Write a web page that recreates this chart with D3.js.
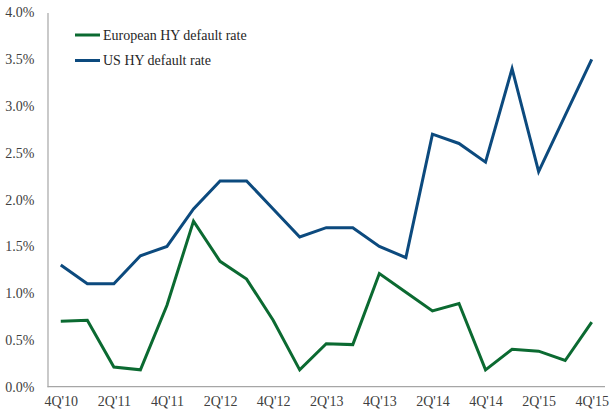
<!DOCTYPE html>
<html>
<head>
<meta charset="utf-8">
<script src="https://cdn.jsdelivr.net/npm/d3@7"></script>
<style>
  html, body { margin: 0; padding: 0; background: #fff; }
  svg { display: block; }
</style>
</head>
<body>
<svg id="chart" width="610" height="414"></svg>
<script>
// Quarterly high-yield default rates, 4Q'10 through 4Q'15 (percent)
const quarters = [
  "4Q'10", "1Q'11", "2Q'11", "3Q'11", "4Q'11", "1Q'12", "2Q'12", "3Q'12", "4Q'12",
  "1Q'13", "2Q'13", "3Q'13", "4Q'13", "1Q'14", "2Q'14", "3Q'14", "4Q'14",
  "1Q'15", "2Q'15", "3Q'15", "4Q'15"
];
const europeanHY = [0.70, 0.71, 0.21, 0.18, 0.87, 1.77, 1.34, 1.15, 0.71, 0.18, 0.46, 0.45,
  1.21, 1.01, 0.81, 0.89, 0.18, 0.40, 0.38, 0.28, 0.69];
const usHY = [1.30, 1.10, 1.10, 1.40, 1.50, 1.90, 2.20, 2.20, 1.90, 1.60, 1.70, 1.70,
  1.50, 1.38, 2.70, 2.60, 2.40, 3.40, 2.30, 2.90, 3.50];
const yTicks = [0, 0.5, 1.0, 1.5, 2.0, 2.5, 3.0, 3.5, 4.0];
const xTickLabels = ["4Q'10", "2Q'11", "4Q'11", "2Q'12", "4Q'12", "2Q'13", "4Q'13",
  "2Q'14", "4Q'14", "2Q'15", "4Q'15"];

const seriesList = [
  { name: "European HY default rate", values: europeanHY, color: "#0B6A31" },
  { name: "US HY default rate", values: usHY, color: "#0C4A7E" }
];

const FONT = "Liberation Serif";
const svg = d3.select("#chart").attr("font-family", FONT);
const plot = { left: 47.5, right: 605, top: 12.5, bottom: 386.7 };

const x = d3.scalePoint().domain(quarters).range([plot.left, plot.right]).padding(0.5);
const y = d3.scaleLinear().domain([0, 4]).range([plot.bottom, plot.top]);

// Y axis: labels and vertical rule
const yAxis = svg.append("g")
  .attr("transform", `translate(${plot.left},0)`)
  .call(d3.axisLeft(y).tickValues(yTicks).tickSize(0).tickPadding(13)
    .tickFormat(d => d.toFixed(1) + "%"))
  .attr("font-family", FONT).attr("font-size", 14);
yAxis.select(".domain").attr("stroke", "#A6A6A6").attr("stroke-width", 1.2);
yAxis.selectAll("text").attr("fill", "#404040");

// X axis: labels every other quarter
const xAxis = svg.append("g")
  .attr("transform", `translate(0,${plot.bottom})`)
  .call(d3.axisBottom(x).tickValues(xTickLabels).tickSize(0).tickPadding(9))
  .attr("font-family", FONT).attr("font-size", 14);
xAxis.select(".domain").attr("stroke", "#A6A6A6").attr("stroke-width", 1.2)
  .attr("d", `M${plot.left},0H${plot.right}`);
xAxis.selectAll("text").attr("fill", "#404040");

// Series lines
const line = d3.line()
  .x((d, i) => x(quarters[i]))
  .y(d => y(d));

svg.selectAll("path.series")
  .data(seriesList)
  .join("path")
  .attr("class", "series")
  .attr("fill", "none")
  .attr("stroke", d => d.color)
  .attr("stroke-width", 3)
  .attr("stroke-linejoin", "miter")
  .attr("d", d => line(d.values));

// Legend
const legend = svg.append("g").attr("transform", "translate(75,35)");
const item = legend.selectAll("g.item")
  .data(seriesList)
  .join("g")
  .attr("class", "item")
  .attr("transform", (d, i) => `translate(0,${i * 25.5})`);
item.append("line")
  .attr("x1", 0).attr("x2", 25).attr("y1", 0).attr("y2", 0)
  .attr("stroke", d => d.color).attr("stroke-width", 3);
item.append("text")
  .attr("x", 28).attr("y", 0).attr("dy", "0.35em")
  .attr("fill", "#262626")
  .attr("font-size", 14)
  .text(d => d.name);
</script>
</body>
</html>
